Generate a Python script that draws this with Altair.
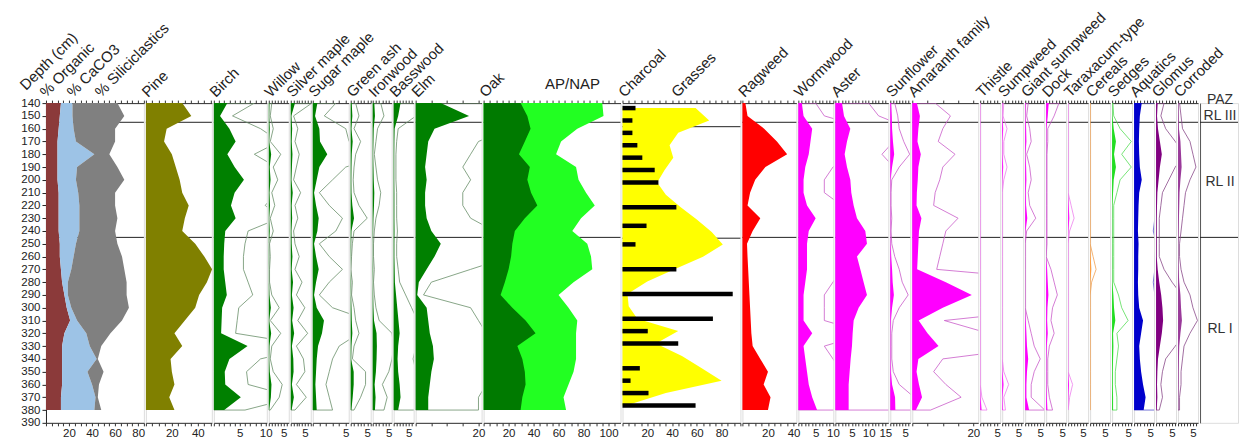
import altair as alt
import pandas as pd

FONT = "Liberation Sans"
H = 320
YDOM = [140, 390]

# ---------------- data ----------------
DEPTH = [140, 150, 160, 170, 180, 190, 200, 210, 220, 230, 240, 250, 260,
         270, 280, 290, 300, 310, 320, 330, 340, 350, 360, 370, 380]
ZONES = [155, 245]
PAZ_LABELS = ["PAZ", "RL III", "RL II", "RL I"]
PAZ_DEPTHS = [137.5, 150, 202, 317]

ORGANIC = [13, 12, 11, 10, 10, 10, 10, 11, 11, 11, 11, 12, 12, 13, 14, 16, 18, 21, 16, 14, 14, 14, 14, 13, 13]
CACO3 = [10, 11, 13, 16, 32, 17, 16, 17, 18, 18, 18, 14, 12, 9, 5, 3, 4, 6, 19, 24, 30, 22, 26, 30, 29]
SILIC = [39, 45, 36, 34, 13, 35, 42, 32, 31, 33, 31, 36, 42, 46, 51, 51, 50, 39, 21, 10, 1, 14, 6, 2, 6]

PINE = [28, 35, 16, 14, 20, 23, 26, 28, 33, 30, 28, 38, 45, 51, 47, 41, 38, 30, 22, 28, 19, 20, 22, 18, 22]
BIRCH = [2.6, 1.2, 3, 4.2, 2.6, 4, 5.8, 4, 3.3, 4.2, 2.2, 2.0, 1.9, 1.9, 2.2, 2.5, 1.6, 1.5, 1.4, 6.5, 3, 2.1, 2.2, 5.2, 2]
WILLOW = [0.2, 0.1, 0.3, 0.1, 0.8, 0.3, 0.6, 0.2, 0.4, 0.1, 0.3, 0.05, 0.1, 0.05, 0.05, 0.2, 0.7, 0.1, 0.8, 0.2, 0.1, 0.3, 0.9, 0.7, 0.1]
SILVER_MAPLE = [1.5, 0.2, 0.5, 0.3, 0.6, 0.4, 0.2, 0.7, 0.3, 0.5, 0.2, 0.3, 0.6, 0.3, 0.8, 0.4, 1.0, 0.5, 1.2, 0.4, 0.9, 1.0, 0.4, 1.1, 0.3]
SUGAR_MAPLE = [0.7, 0.35, 1.0, 1.1, 2.2, 1.0, 0.6, 0.2, 0.5, 0.9, 0.7, 0.2, 0.5, 0.9, 0.5, 0.2, 0.6, 1.7, 1.4, 0.8, 0.6, 0.5, 0.4, 0.5, 0.6]
GREEN_ASH = [0.3, 0.5, 0.2, 0.6, 0.3, 0.2, 0.15, 0.2, 0.5, 1.0, 0.2, 0.1, 0.05, 0, 0.1, 0.05, 0.2, 0.3, 0.5, 0.2, 0.1, 0.9, 0.9, 0.6, 0.2]
IRONWOOD = [0.5, 0.7, 0.3, 0.2, 0.1, 0.2, 0.3, 0.5, 0.4, 0.2, 0.1, 0.05, 0.05, 0.1, 0.05, 0.1, 0.2, 0.4, 1.2, 1.3, 1.2, 1.0, 0.6, 0.9, 0.7]
BASSWOOD = [2.3, 1.5, 0.3, 0.2, 0.15, 0.15, 0.15, 0.2, 0.2, 0.2, 0.25, 0.2, 0.2, 0.3, 0.4, 0.8, 1.2, 1.6, 2.0, 1.5, 1.3, 1.5, 2.0, 2.3, 1.5]
ELM = [8, 17, 6, 4, 3.5, 3, 3.5, 3, 3, 3.5, 5, 8, 6, 3.5, 1, 0.5, 3.5, 4, 4.5, 5.5, 5.8, 5, 4.5, 4, 4]

OAK = [29.6, 35, 37.6, 33, 28.3, 37, 35, 38, 43, 33, 25, 23, 22, 20, 17, 13.6, 23, 33.6, 41.6, 27, 31, 33, 33.6, 31, 29.6]
AP_NAP = [95, 96, 75, 62, 58, 74, 76, 82, 89, 78, 71, 83, 86, 87, 72, 60, 68, 75, 74, 74, 74, 72, 68, 64, 66]

CHAR_DEPTH = [140, 150, 160, 170, 180, 190, 200, 220, 235, 250, 270, 290, 310, 320, 330, 350, 360, 370, 380]
CHARCOAL = [10.5, 8, 8, 12, 16, 26, 29, 43.5, 19.4, 10.5, 43.5, 89, 73, 20.4, 45, 14, 6.5, 21, 59]
GRASSES = [59, 70, 45, 38, 41, 34, 28, 35, 47, 60, 72, 81, 65, 42, 20, 4, 5, 12, 45, 27, 48, 64, 80, 35, 3]

RAGWEED = [2.3, 4, 17, 27, 35, 18, 10, 6, 4, 14, 8, 3.6, 4, 4.5, 5, 5.5, 6, 6.5, 7, 8, 14, 20, 16.6, 22, 20]
WORMWOOD = [1.0, 1.5, 4.0, 3.5, 3.0, 2.0, 1.5, 1.5, 2.5, 5.0, 3.0, 2.5, 2.5, 2.5, 2.0, 1.5, 1.5, 1.5, 4.0, 1.5, 2.0, 2.5, 3.0, 4.0, 5.4]
ASTER = [2, 2.6, 4.5, 3.5, 2.8, 3.5, 4.5, 4.8, 5.5, 6.5, 9, 9.5, 6.5, 7.5, 8.5, 9.5, 7, 5.5, 5.2, 5, 4.6, 4.3, 4, 4, 4]
SUNFLOWER = [0.3, 0.5, 0.6, 0.9, 1.3, 0.6, 0.1, 0.05, 0.05, 0.1, 0.05, 0.1, 0.3, 0.6, 0.8, 1.2, 0.6, 0.2, 0.1, 0.1, 0.1, 0.2, 0.6, 1.6, 1.7]
AMARANTH = [1.5, 2.5, 2, 1.7, 2.8, 2, 1.8, 1.5, 1.4, 3, 2.2, 2.0, 1.8, 1.6, 11, 19.5, 10, 2.1, 5, 8.6, 2, 1.4, 2.2, 3.2, 1.2]
THISTLE = [0, 0, 0, 0, 0, 0, 0, 0, 0, 0, 0, 0, 0, 0, 0, 0, 0, 0, 0, 0, 0, 0, 0, 0.1, 0.4]
SUMPWEED = [0.1, 0.05, 0.3, 0.1, 0.1, 0.3, 0.1, 0, 0, 0, 0, 0, 0, 0, 0, 0, 0, 0, 0, 0, 0, 0.1, 0.4, 0.1, 0.2]
GIANT_SUMPWEED = [0.2, 0.1, 0.3, 0.4, 0.1, 0.3, 0.4, 0.2, 0.3, 0.7, 0.1, 0, 0, 0, 0, 0, 0, 0.2, 0.4, 0.6, 1.0, 0.6, 0.4, 0.4, 1.3]
DOCK = [0.8, 0.5, 0.1, 0.1, 0.05, 0.05, 0.05, 0.05, 0.05, 0.05, 0.05, 0.05, 0, 0.3, 0.5, 0.7, 0.4, 0.3, 0.5, 0.2, 0.1, 0.1, 0.1, 0.2, 0.4]
TARAXACUM = [0, 0, 0, 0, 0, 0, 0, 0, 0.2, 0.4, 0.1, 0, 0, 0, 0, 0, 0, 0, 0, 0, 0, 0, 0.3, 0.1, 0]
CEREALS = [0, 0, 0, 0, 0, 0, 0, 0, 0, 0, 0, 0, 0.2, 0.4, 0.1, 0, 0, 0, 0, 0, 0, 0, 0, 0, 0]
SEDGES = [0.05, 0.1, 0.5, 1.2, 0.6, 1.2, 0.5, 0.3, 0.1, 0.1, 0.1, 0.1, 0.1, 0.1, 0.1, 0.4, 0.6, 1.0, 0.3, 0.4, 0.3, 0.2, 0.2, 0.3, 0.3]
AQUATICS = [2.4, 1.8, 1.6, 1.5, 1.6, 1.8, 2.4, 1.6, 1.4, 1.3, 1.2, 1.4, 1.3, 1.3, 1.2, 1.3, 1.6, 2.8, 2.2, 1.6, 1.8, 2.2, 2.8, 3.6, 3.0]
GLOMUS = [0.5, 0.3, 0.6, 1.2, 1.8, 1.2, 0.8, 0.4, 0.3, 0.2, 0.2, 0.2, 0.2, 0.5, 1.0, 1.6, 2.0, 2.2, 1.8, 1.2, 0.6, 0.4, 0.3, 0.4, 0.2]
CORRODED = [0.1, 0.2, 0.3, 0.8, 1.0, 1.2, 0.8, 0.5, 0.4, 0.3, 0.2, 0.1, 0.1, 0.2, 0.4, 0.8, 1.0, 1.3, 0.8, 0.4, 0.3, 0.2, 0.2, 0.1, 0.1]

# ---------------- helpers ----------------
TITLE_SIZE = 15

YAXIS = alt.Axis(orient="left", values=list(range(140, 391, 10)), labelFontSize=11.5,
                 labelColor="#222", tickSize=4, tickColor="#222", domainColor="#222",
                 labelPadding=2, title=None, grid=False, format="d")


def yenc(field, axis=None):
    return alt.Y(f"{field}:Q", scale=alt.Scale(domain=YDOM, reverse=True, nice=False, zero=False),
                 axis=axis)


def ticks_for(xmax, minor):
    n = int(xmax / minor + 1e-9)
    return [round(i * minor, 6) for i in range(n + 1)]


def bottom_axis(ticks, major):
    return alt.Axis(orient="bottom", values=ticks,
                    labelExpr=f"datum.value > 0 && datum.value % {major} == 0 ? datum.label : ''",
                    labelFontSize=11.5, labelColor="#222", labelPadding=2, tickSize=3,
                    tickColor="#333", domainColor="#333", title=None, grid=False,
                    labelOverlap=False, labelFlush=False, labelBound=False, format="d")


def top_axis(ticks):
    return alt.Axis(orient="top", values=ticks, labels=False, tickSize=3, tickColor="#333",
                    domainColor="#333", title=None, grid=False)


def zone_layer(axis=None):
    return alt.Chart(pd.DataFrame({"z": ZONES})).mark_rule(color="#222", strokeWidth=1).encode(
        y=yenc("z", axis))


def title_layer(text, dx=2, dy=-5, angle=315, align="left"):
    return alt.Chart(pd.DataFrame({"t": [text]})).mark_text(
        angle=angle, align=align, baseline="alphabetic", fontSize=TITLE_SIZE, font=FONT,
        color="#222"
    ).encode(text="t:N", x=alt.value(dx), y=alt.value(dy))


def xscale(xmax):
    return alt.Scale(domain=[0, xmax], nice=False, zero=True)


def taxon(title, vals, w, xmax, fill, line=None, minor=1, major=5, ex=5):
    df = pd.DataFrame({"depth": DEPTH, "v": vals})
    ticks = ticks_for(xmax, minor)
    base = alt.Chart(df)
    outline = base.transform_calculate(e=f"datum.v * {ex}").mark_area(
        orient="horizontal", fillOpacity=0, stroke=line if line else "#ffffff",
        strokeOpacity=1 if line else 0, strokeWidth=0.8, clip=True
    ).encode(x=alt.X("e:Q", scale=xscale(xmax), axis=bottom_axis(ticks, major), stack=None),
             y=yenc("depth"))
    body = base.mark_area(orient="horizontal", color=fill).encode(
        x=alt.X("v:Q", scale=xscale(xmax), axis=top_axis(ticks), stack=None), y=yenc("depth"))
    return alt.layer(zone_layer(), outline, body, title_layer(title)).resolve_scale(
        x="independent").resolve_axis(x="independent").properties(width=w, height=H)


# ---------------- panels ----------------
# sediments
sed_max = 85
sed_ticks = ticks_for(sed_max, 5)
sed_df = pd.DataFrame({"depth": DEPTH, "org": ORGANIC, "caco3": CACO3, "silic": SILIC})
sed_base = alt.Chart(sed_df).transform_calculate(
    b2="datum.org + datum.caco3", b3="datum.org + datum.caco3 + datum.silic")
sed_org = sed_base.mark_area(orient="horizontal", color="#8b3a3a").encode(
    x=alt.X("org:Q", scale=xscale(sed_max), axis=bottom_axis(sed_ticks, 20), stack=None),
    y=yenc("depth", YAXIS))
sed_cac = sed_base.mark_area(orient="horizontal", color="#9dc3e6").encode(
    x=alt.X("b2:Q", scale=xscale(sed_max), axis=top_axis(sed_ticks), stack=None), x2="org:Q",
    y=yenc("depth", YAXIS))
sed_sil = sed_base.mark_area(orient="horizontal", color="#808080").encode(
    x=alt.X("b3:Q", scale=xscale(sed_max), axis=None, stack=None), x2="b2:Q",
    y=yenc("depth", YAXIS))
sediment = alt.layer(
    zone_layer(YAXIS), sed_org, sed_cac, sed_sil,
    title_layer("Depth (cm)", dx=-20, dy=-12),
    title_layer("% Organic", dx=0), title_layer("% CaCO3", dx=27),
    title_layer("% Siliciclastics", dx=55),
).resolve_scale(x="independent").resolve_axis(x="independent").properties(width=98, height=H)

TREE_FILL = "#008000"
TREE_LINE = "#6a8f6a"
HERB_FILL = "#ff00ff"
HERB_LINE = "#c95cc9"
HERB_LINE2 = "#ee80ee"

pine = taxon("Pine", PINE, 66, 50.8, "#808000", None, minor=5, major=20)
birch = taxon("Birch", BIRCH, 53, 10.2, TREE_FILL, TREE_LINE, minor=1, major=5, ex=3)
willow = taxon("Willow", WILLOW, 20, 6.7, TREE_FILL, TREE_LINE)
silver = taxon("Silver maple", SILVER_MAPLE, 20, 7.1, TREE_FILL, TREE_LINE)
sugar = taxon("Sugar maple", SUGAR_MAPLE, 36, 5.45, TREE_FILL, TREE_LINE)
greenash = taxon("Green ash", GREEN_ASH, 20, 6.06, TREE_FILL, TREE_LINE)
ironwood = taxon("Ironwood", IRONWOOD, 19, 5.9, TREE_FILL, TREE_LINE)
basswood = taxon("Basswood", BASSWOOD, 20, 6.7, TREE_FILL, TREE_LINE)
elm = taxon("Elm", ELM, 66, 21, TREE_FILL, TREE_LINE, minor=5, major=20)

# oak + AP/NAP
oak_max = 109.6
oak_ticks = ticks_for(oak_max, 5)
oak_df = pd.DataFrame({"depth": DEPTH, "oak": OAK, "ap": AP_NAP})
ap_layer = alt.Chart(oak_df).mark_area(orient="horizontal", color="#22ff22").encode(
    x=alt.X("ap:Q", scale=xscale(oak_max), axis=bottom_axis(oak_ticks, 20), stack=None),
    y=yenc("depth"))
oak_layer = alt.Chart(oak_df).mark_area(orient="horizontal", color="#007a00").encode(
    x=alt.X("oak:Q", scale=xscale(oak_max), axis=top_axis(oak_ticks), stack=None),
    y=yenc("depth"))
oak = alt.layer(
    zone_layer(), ap_layer, oak_layer, title_layer("Oak"),
    title_layer("AP/NAP", dx=89, dy=-14, angle=0, align="center"),
).resolve_scale(x="independent").resolve_axis(x="independent").properties(width=137, height=H)

# charcoal + grasses
ch_max = 95.2
ch_ticks = ticks_for(ch_max, 5)
grass_layer = alt.Chart(pd.DataFrame({"depth": DEPTH, "g": GRASSES})).mark_area(
    orient="horizontal", color="#ffff00").encode(
    x=alt.X("g:Q", scale=xscale(ch_max), axis=bottom_axis(ch_ticks, 20), stack=None),
    y=yenc("depth"))
char_layer = alt.Chart(pd.DataFrame({"depth": CHAR_DEPTH, "c": CHARCOAL})).mark_bar(
    orient="horizontal", size=4.5, color="#000000").encode(
    x=alt.X("c:Q", scale=xscale(ch_max), axis=top_axis(ch_ticks), stack=None),
    y=yenc("depth"))
charcoal = alt.layer(
    zone_layer(), grass_layer, char_layer, title_layer("Charcoal"),
    title_layer("Grasses", dx=55),
).resolve_scale(x="independent").resolve_axis(x="independent").properties(width=118, height=H)

ragweed = taxon("Ragweed", RAGWEED, 54, 42.2, "#ff0000", None, minor=5, major=20)
wormwood = taxon("Wormwood", WORMWOOD, 35, 10.1, HERB_FILL, HERB_LINE)
aster = taxon("Aster", ASTER, 53, 15.9, HERB_FILL, HERB_LINE)
sunflower = taxon("Sunflower", SUNFLOWER, 20, 6.7, HERB_FILL, HERB_LINE)
amaranth = taxon("Amaranth family", AMARANTH, 66, 21.6, HERB_FILL, HERB_LINE, minor=5, major=20)
thistle = taxon("Thistle", THISTLE, 20, 5.9, HERB_FILL, HERB_LINE2)
sumpweed = taxon("Sumpweed", SUMPWEED, 21, 6.5, HERB_FILL, HERB_LINE2)
giant = taxon("Giant sumpweed", GIANT_SUMPWEED, 19, 6.3, HERB_FILL, HERB_LINE)
dock = taxon("Dock", DOCK, 20, 6.25, HERB_FILL, HERB_LINE)
tarax = taxon("Taraxacum-type", TARAXACUM, 20, 6.7, HERB_FILL, HERB_LINE2)
cereals = taxon("Cereals", CEREALS, 20, 6.7, "#ff9933", "#f0a050")
sedges = taxon("Sedges", SEDGES, 20, 6.25, "#22dd22", "#55dd55")
aquatics = taxon("Aquatics", AQUATICS, 20, 6.25, "#0000cc", "#5555cc")
glomus = taxon("Glomus", GLOMUS, 20, 6.25, "#800080", "#8a4a8a")
corroded = taxon("Corroded", CORRODED, 20, 6.7, "#9a3a9a", "#8a4a8a")

# PAZ column
paz_axis = alt.Axis(orient="left", labels=False, ticks=False, domain=True, domainColor="#555",
                    title=None, grid=False)
paz_text = alt.Chart(pd.DataFrame({"label": PAZ_LABELS, "d": PAZ_DEPTHS})).mark_text(
    fontSize=14, font=FONT, color="#333", align="center", baseline="middle").encode(
    text="label:N", x=alt.value(20), y=yenc("d", paz_axis))
paz = alt.layer(zone_layer(paz_axis), paz_text).properties(width=38, height=H)

panels = [sediment, pine, birch, willow, silver, sugar, greenash, ironwood, basswood, elm,
          oak, charcoal, ragweed, wormwood, aster, sunflower, amaranth, thistle, sumpweed,
          giant, dock, tarax, cereals, sedges, aquatics, glomus, corroded, paz]

chart = alt.hconcat(*panels, spacing=2, bounds="flush").resolve_scale(
    x="independent", y="independent").configure_view(stroke=None).configure(
    font=FONT).properties(padding={"left": 9, "top": 1, "right": 2, "bottom": 2})

chart.save("out.html", embed_options={"renderer": "svg", "actions": False})
